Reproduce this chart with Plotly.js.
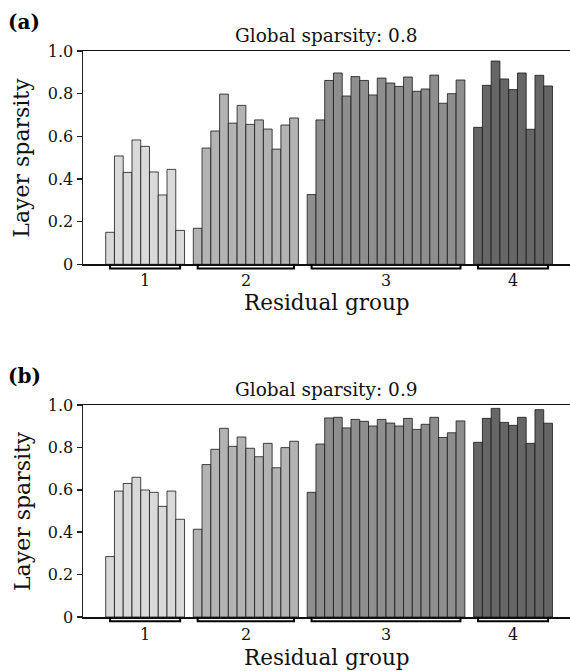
<!DOCTYPE html>
<html><head><meta charset="utf-8">
<script src="https://cdn.plot.ly/plotly-3.0.1.min.js"></script>
<style>html,body{margin:0;padding:0;background:#fff}</style>
</head><body><div id="chart" style="width:570px;height:671px"></div>
<script>
// ---- data ----
const groupLabels = ['1', '2', '3', '4'];
const groupColors = ['#d9d9d9', '#b3b3b3', '#8e8e8e', '#666666'];
const panelLabels = ['(a)', '(b)'];
const panelTitles = ['Global sparsity: 0.8', 'Global sparsity: 0.9'];
const yTickVals = [0, 0.2, 0.4, 0.6, 0.8, 1.0];
const yTickText = ['0', '0.2', '0.4', '0.6', '0.8', '1.0'];

// Global sparsity 0.8
const s08_group1 = [0.15, 0.508, 0.431, 0.583, 0.553, 0.433, 0.325, 0.445, 0.159];
const s08_group2 = [0.169, 0.545, 0.625, 0.798, 0.662, 0.745, 0.656, 0.677, 0.634, 0.54, 0.653, 0.686];
const s08_group3 = [0.327, 0.677, 0.862, 0.897, 0.789, 0.88, 0.862, 0.794, 0.873, 0.85, 0.834, 0.878, 0.811, 0.822, 0.887, 0.755, 0.8, 0.864];
const s08_group4 = [0.642, 0.839, 0.953, 0.869, 0.819, 0.897, 0.633, 0.886, 0.836];

// Global sparsity 0.9
const s09_group1 = [0.285, 0.594, 0.63, 0.659, 0.599, 0.588, 0.522, 0.594, 0.461];
const s09_group2 = [0.414, 0.719, 0.791, 0.89, 0.805, 0.849, 0.796, 0.756, 0.819, 0.704, 0.799, 0.829];
const s09_group3 = [0.588, 0.816, 0.939, 0.942, 0.892, 0.932, 0.923, 0.901, 0.932, 0.915, 0.901, 0.937, 0.885, 0.909, 0.942, 0.847, 0.869, 0.925];
const s09_group4 = [0.824, 0.937, 0.984, 0.918, 0.904, 0.942, 0.819, 0.978, 0.914];

const panels = [
  [s08_group1, s08_group2, s08_group3, s08_group4],
  [s09_group1, s09_group2, s09_group3, s09_group4]
];

// ---- layout constants ----
const W = 570, H = 671;
const FONT = 'DejaVu Serif, Liberation Serif, serif';
const yDomains = [[(H - 264.3) / H, (H - 51) / H], [(H - 617) / H, (H - 405) / H]];
const xDomain = [83 / W, 1];
const xRange = [-3.09, 52.5];
const labelDrop = [16.5, 17];
const titleDrop = [38.5, 40];

const traces = [];
const shapes = [];
const annotations = [];

panels.forEach((groups, p) => {
  const xa = p === 0 ? 'x' : 'x2';
  const ya = p === 0 ? 'y' : 'y2';
  let offset = 0;
  const bottomPx = H - yDomains[p][0] * H;
  const topPx = H - yDomains[p][1] * H;
  groups.forEach((vals, g) => {
    const xs = vals.map((_, i) => offset + i);
    traces.push({
      type: 'bar', x: xs, y: vals, xaxis: xa, yaxis: ya,
      width: 1,
      marker: {color: groupColors[g], line: {color: 'rgba(25,25,25,0.8)', width: 1}},
      hoverinfo: 'y', showlegend: false
    });
    const x0 = xs[0], x1 = xs[xs.length - 1];
    const yTop = (H - bottomPx) / H;
    const yBot = (H - bottomPx - 4.2) / H;
    shapes.push({
      type: 'path', xref: xa, yref: 'paper',
      path: `M ${x0},${yTop} L ${x0},${yBot} L ${x1},${yBot} L ${x1},${yTop}`,
      line: {color: '#000', width: 2}
    });
    annotations.push({
      xref: xa, yref: 'paper', x: (x0 + x1) / 2, y: (H - bottomPx - labelDrop[p]) / H,
      text: groupLabels[g], showarrow: false, xanchor: 'center', yanchor: 'middle',
      font: {family: FONT, size: 16, color: '#111'}
    });
    offset += vals.length + 1;
  });
  // x-axis title
  annotations.push({
    xref: 'paper', yref: 'paper', x: (83 + 570) / 2 / W,
    y: (H - bottomPx - titleDrop[p]) / H,
    text: 'Residual group', showarrow: false, xanchor: 'center', yanchor: 'middle',
    font: {family: FONT, size: 21.5, color: '#111'}
  });
  // y-axis title
  annotations.push({
    xref: 'paper', yref: 'paper', x: 22 / W, y: (H - (topPx + bottomPx) / 2) / H,
    text: 'Layer sparsity', showarrow: false, textangle: -90,
    xanchor: 'center', yanchor: 'middle',
    font: {family: FONT, size: 22, color: '#111'}
  });
  // panel title
  annotations.push({
    xref: 'paper', yref: 'paper', x: (83 + 570) / 2 / W, y: (H - (topPx - 15)) / H,
    text: panelTitles[p], showarrow: false, xanchor: 'center', yanchor: 'middle',
    font: {family: FONT, size: 18.5, color: '#111'}
  });
  // panel label
  annotations.push({
    xref: 'paper', yref: 'paper', x: 6 / W, y: (H - (topPx - 29)) / H,
    text: '<b>' + panelLabels[p] + '</b>', showarrow: false, xanchor: 'left', yanchor: 'middle',
    font: {family: FONT, size: 20, color: '#000'}
  });
});

const xaxisBase = {
  range: xRange, domain: xDomain, showgrid: false, zeroline: false,
  showticklabels: false, ticks: '', showline: true, mirror: true,
  linecolor: '#111', linewidth: 1.5, fixedrange: true
};
const yaxisBase = {
  range: [0, 1], showgrid: false, zeroline: false, tickvals: yTickVals, ticktext: yTickText,
  ticks: 'outside', ticklen: 5, tickwidth: 1.5, tickcolor: '#222',
  showline: true, linecolor: '#222', linewidth: 1.5,
  tickfont: {family: FONT, size: 16, color: '#111'}, fixedrange: true
};

const layout = {
  width: W, height: H, margin: {l: 0, r: 0, t: 0, b: 0},
  paper_bgcolor: '#fff', plot_bgcolor: '#fff',
  barmode: 'overlay', bargap: 0,
  xaxis: Object.assign({}, xaxisBase, {anchor: 'y'}),
  yaxis: Object.assign({}, yaxisBase, {domain: yDomains[0], anchor: 'x'}),
  xaxis2: Object.assign({}, xaxisBase, {anchor: 'y2'}),
  yaxis2: Object.assign({}, yaxisBase, {domain: yDomains[1], anchor: 'x2'}),
  shapes: shapes, annotations: annotations
};

Plotly.newPlot('chart', traces, layout, {staticPlot: true, displayModeBar: false});
</script>
</body></html>
